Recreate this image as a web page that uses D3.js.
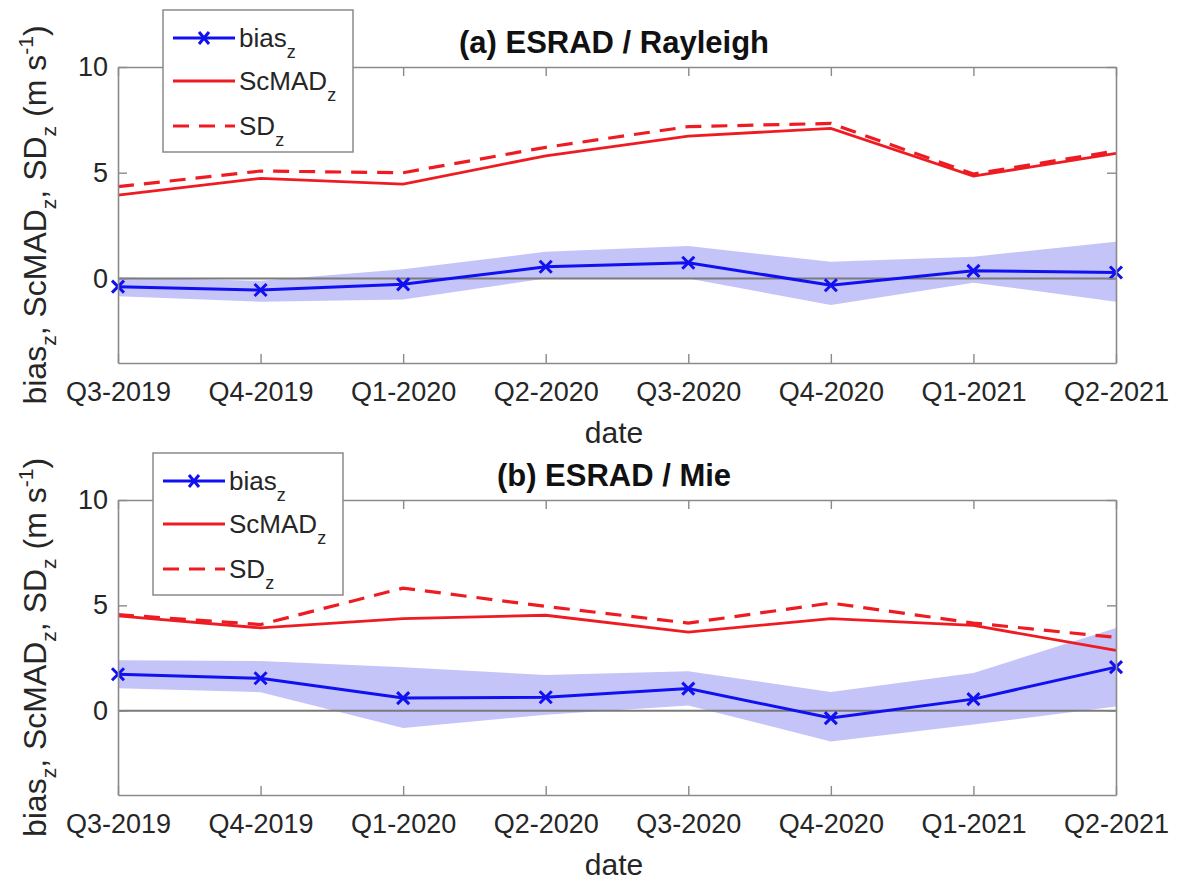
<!DOCTYPE html>
<html>
<head>
<meta charset="utf-8">
<script src="https://cdn.jsdelivr.net/npm/d3@7"></script>
<style>
  body { margin: 0; background: #fff; }
  svg text { font-family: "Liberation Sans", Arial, Helvetica, sans-serif; fill: #262626; }
</style>
</head>
<body>
<div class="chart"></div>
<script>
var w = 1178;
var h = 881;

// quarters on the x axis
var quarters = ["Q3-2019", "Q4-2019", "Q1-2020", "Q2-2020", "Q3-2020", "Q4-2020", "Q1-2021", "Q2-2021"];
var yTicks = [0, 5, 10];

// (a) ESRAD / Rayleigh
var biasRay   = [-0.39, -0.55, -0.28, 0.55, 0.74, -0.32, 0.36, 0.28];
var biasLoRay = [-0.84, -1.10, -1.00, 0.00, 0.00, -1.26, -0.20, -1.10];
var biasHiRay = [0.05, -0.11, 0.43, 1.26, 1.53, 0.79, 1.03, 1.73];
var scmadRay  = [3.94, 4.73, 4.46, 5.80, 6.73, 7.10, 4.84, 5.91];
var sdRay     = [4.34, 5.08, 5.00, 6.20, 7.18, 7.33, 4.94, 6.03];

// (b) ESRAD / Mie
var biasMie   = [1.73, 1.54, 0.60, 0.64, 1.05, -0.35, 0.55, 2.07];
var biasLoMie = [1.07, 0.88, -0.82, -0.19, 0.25, -1.46, -0.66, 0.20];
var biasHiMie = [2.40, 2.36, 2.06, 1.70, 1.87, 0.89, 1.79, 3.92];
var scmadMie  = [4.50, 3.93, 4.37, 4.53, 3.73, 4.37, 4.05, 2.86];
var sdMie     = [4.56, 4.09, 5.82, 4.95, 4.16, 5.11, 4.16, 3.48];

var blue = "#1010f0";
var red = "#ee1c22";
var axisGrey = "#8a8a8a";

var svg = d3.select(".chart")
    .append("svg")
    .attr("width", w)
    .attr("height", h);

var x = d3.scalePoint()
    .domain(quarters)
    .range([118, 1116]);

function drawPanel(p) {
    var y = d3.scaleLinear()
        .domain([-4, 10])
        .range([p.bottom, p.top]);

    var g = svg.append("g");

    // shaded bias range
    var area = d3.area()
        .x(function(d, i) { return x(quarters[i]); })
        .y0(function(d, i) { return y(p.lo[i]); })
        .y1(function(d, i) { return y(p.hi[i]); });
    g.append("path")
        .datum(p.bias)
        .attr("d", area)
        .attr("fill", "rgb(196,196,248)");

    // zero line
    g.append("line")
        .attr("x1", x.range()[0]).attr("x2", x.range()[1])
        .attr("y1", y(0)).attr("y2", y(0))
        .attr("stroke", "#7a7a7a")
        .attr("stroke-width", 2);

    var line = d3.line()
        .x(function(d, i) { return x(quarters[i]); })
        .y(function(d) { return y(d); });

    g.append("path").datum(p.sd)
        .attr("d", line).attr("fill", "none")
        .attr("stroke", red).attr("stroke-width", 3.2)
        .attr("stroke-dasharray", "16,10");
    g.append("path").datum(p.scmad)
        .attr("d", line).attr("fill", "none")
        .attr("stroke", red).attr("stroke-width", 2.8);
    g.append("path").datum(p.bias)
        .attr("d", line).attr("fill", "none")
        .attr("stroke", blue).attr("stroke-width", 3);

    // x markers
    g.selectAll(".mk")
        .data(p.bias)
        .enter().append("path")
        .attr("d", function(d, i) {
            var cx = x(quarters[i]), cy = y(d), s = 6;
            return "M" + (cx - s) + "," + (cy - s) + "L" + (cx + s) + "," + (cy + s) +
                   "M" + (cx - s) + "," + (cy + s) + "L" + (cx + s) + "," + (cy - s);
        })
        .attr("stroke", blue)
        .attr("stroke-width", 3)
        .attr("fill", "none");

    // axes, MATLAB style box with inward ticks
    var xb = g.append("g")
        .attr("transform", "translate(0," + p.bottom + ")")
        .call(d3.axisBottom(x).tickSizeInner(-9).tickSizeOuter(0).tickPadding(19));
    var xt = g.append("g")
        .attr("transform", "translate(0," + p.top + ")")
        .call(d3.axisTop(x).tickSizeInner(-9).tickSizeOuter(0).tickFormat(""));
    var yl = g.append("g")
        .attr("transform", "translate(" + x.range()[0] + ",0)")
        .call(d3.axisLeft(y).tickValues(yTicks).tickSizeInner(-9).tickSizeOuter(0).tickPadding(10));
    var yr = g.append("g")
        .attr("transform", "translate(" + x.range()[1] + ",0)")
        .call(d3.axisRight(y).tickValues(yTicks).tickSizeInner(-9).tickSizeOuter(0).tickFormat(""));

    [xb, xt, yl, yr].forEach(function(a) {
        a.select(".domain").attr("stroke", axisGrey).attr("stroke-width", 1.6);
        a.selectAll(".tick line").attr("stroke", axisGrey).attr("stroke-width", 1.4);
        a.selectAll(".tick text")
            .attr("fill", "#262626")
            .style("font-size", "27px")
            .style("font-family", "'Liberation Sans', Arial, sans-serif");
    });

    // title
    g.append("text")
        .attr("x", 614)
        .attr("y", p.top - 14)
        .attr("text-anchor", "middle")
        .style("font-size", "31px")
        .style("font-weight", "bold")
        .style("fill", "#111")
        .text(p.title);

    // x label
    g.append("text")
        .attr("x", 614)
        .attr("y", p.bottom + 80)
        .attr("text-anchor", "middle")
        .style("font-size", "30px")
        .text("date");

    // y label with subscripts
    var yc = (p.top + p.bottom) / 2;
    var lab = g.append("text")
        .attr("transform", "translate(46," + yc + ") rotate(-90)")
        .attr("text-anchor", "middle")
        .style("font-size", "32px");
    lab.append("tspan").text("bias");
    lab.append("tspan").attr("dy", 10).style("font-size", "21px").text("z");
    lab.append("tspan").attr("dy", -10).text(", ScMAD");
    lab.append("tspan").attr("dy", 10).style("font-size", "21px").text("z");
    lab.append("tspan").attr("dy", -10).text(", SD");
    lab.append("tspan").attr("dy", 10).style("font-size", "21px").text("z");
    lab.append("tspan").attr("dy", -10).text(" (m s");
    lab.append("tspan").attr("dy", -13).style("font-size", "21px").text("-1");
    lab.append("tspan").attr("dy", 13).text(")");

    // legend
    var lg = g.append("g").attr("transform", "translate(" + p.legX + "," + p.legY + ")");
    lg.append("rect")
        .attr("width", 190).attr("height", 142)
        .attr("fill", "#fff")
        .attr("stroke", axisGrey).attr("stroke-width", 1.5);
    var entries = [
        { name: "bias", color: blue, dash: null, marker: true, wdt: 3 },
        { name: "ScMAD", color: red, dash: null, marker: false, wdt: 2.8 },
        { name: "SD", color: red, dash: "16,10", marker: false, wdt: 3.2 }
    ];
    var ey = [28, 71, 116];
    entries.forEach(function(e, i) {
        lg.append("line")
            .attr("x1", 10).attr("x2", 72)
            .attr("y1", ey[i]).attr("y2", ey[i])
            .attr("stroke", e.color).attr("stroke-width", e.wdt)
            .attr("stroke-dasharray", e.dash);
        if (e.marker) {
            lg.append("path")
                .attr("d", "M36,22L46,34M36,34L46,22")
                .attr("stroke", e.color).attr("stroke-width", 3);
        }
        var t = lg.append("text")
            .attr("x", 76)
            .attr("y", ey[i] + 9)
            .style("font-size", "26px");
        t.append("tspan").text(e.name);
        t.append("tspan").attr("dy", 11).style("font-size", "18px").text("z");
    });
}

drawPanel({ top: 67, bottom: 363, title: "(a) ESRAD / Rayleigh",
            bias: biasRay, lo: biasLoRay, hi: biasHiRay, scmad: scmadRay, sd: sdRay,
            legX: 163, legY: 10 });
drawPanel({ top: 500, bottom: 795, title: "(b) ESRAD / Mie",
            bias: biasMie, lo: biasLoMie, hi: biasHiMie, scmad: scmadMie, sd: sdMie,
            legX: 153, legY: 453 });
</script>
</body>
</html>
